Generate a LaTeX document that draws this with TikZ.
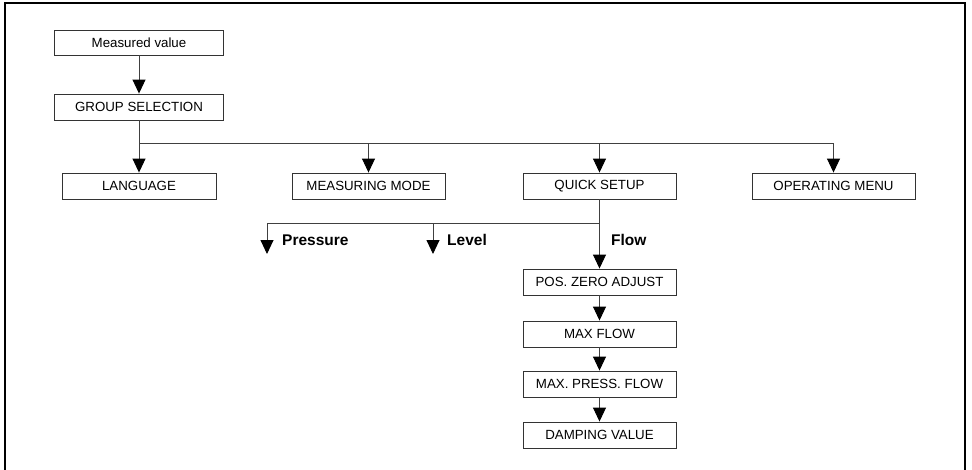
\documentclass[tikz,border=0pt]{standalone}
\usepackage{fontspec}
\setmainfont{Liberation Sans}
\usetikzlibrary{arrows.meta}
\begin{document}
\begin{tikzpicture}[x=1pt,y=-1pt,
  box/.style={draw=black!80,line width=0.9pt,rectangle,inner sep=0pt,minimum height=26pt,font=\fontsize{13.3}{15}\selectfont},
  conn/.style={draw=black!75,line width=0.9pt},
  arr/.style={conn,-{Triangle[length=14pt,width=13pt,color=black,fill=black]}},
  lab/.style={font=\fontsize{15.5}{17}\selectfont\bfseries,inner sep=0pt,anchor=base west}]
\useasboundingbox (0,0) rectangle (972,469);
\draw[line width=1.4pt] (5,470) -- (5,3) -- (965,3) -- (965,470);
\node[box,minimum width=169pt,minimum height=25pt] (mv) at (139,42.5) {Measured value};
\node[box,minimum width=169pt] (gs) at (139,107) {GROUP SELECTION};
\node[box,minimum width=154pt] (lang) at (139,186) {LANGUAGE};
\node[box,minimum width=153pt] (mm) at (368.5,186) {MEASURING MODE};
\node[box,minimum width=153pt] (qs) at (599.5,186) {QUICK SETUP};
\node[box,minimum width=163pt] (om) at (833.5,186) {OPERATING MENU};
\node[box,minimum width=153pt] (pz) at (599.5,282) {POS. ZERO ADJUST};
\node[box,minimum width=153pt] (mf) at (599.5,334) {MAX FLOW};
\node[box,minimum width=153pt] (mp) at (599.5,384) {MAX. PRESS. FLOW};
\node[box,minimum width=153pt] (dv) at (599.5,435) {DAMPING VALUE};
\coordinate (hl) at (139,143);
\coordinate (hr) at (833.5,143);
\coordinate (hm) at (368.5,143);
\coordinate (hq) at (599.5,143);
\coordinate (fl) at (599.5,223);
\coordinate (pl) at (267,223);
\coordinate (ll) at (433,223);
\coordinate (pt) at (267,254);
\coordinate (lt) at (433,254);
\draw[arr] (mv) -- (gs);
\draw[conn] (gs.south) -- (hl) -- (hr);
\draw[arr] (hl) -- (lang);
\draw[arr] (hm) -- (mm);
\draw[arr] (hq) -- (qs);
\draw[arr] (hr) -- (om);
\draw[conn] (qs.south) -- (fl) -- (pl);
\draw[arr] (pl) -- (pt);
\draw[arr] (ll) -- (lt);
\draw[arr] (fl) -- (pz);
\draw[arr] (pz) -- (mf);
\draw[arr] (mf) -- (mp);
\draw[arr] (mp) -- (dv);
\node[lab] (lp) at (282,245) {Pressure};
\node[lab] (lv) at (447,245) {Level};
\node[lab] (lf) at (611,245) {Flow};
\end{tikzpicture}
\end{document}
